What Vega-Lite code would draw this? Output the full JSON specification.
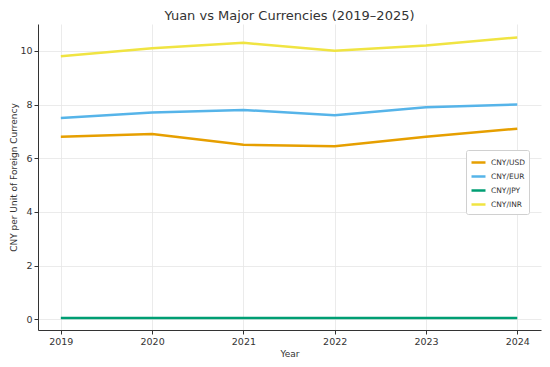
{
  "$schema": "https://vega.github.io/schema/vega-lite/v6.json",
  "width": 503,
  "height": 306,
  "autosize": {"type": "none"},
  "padding": {"left": 38, "top": 24, "right": 9, "bottom": 37},
  "background": "white",
  "title": {"text": "Yuan vs Major Currencies (2019–2025)", "font": "DejaVu Sans", "fontSize": 13, "fontWeight": "normal", "color": "#333333", "offset": 1},
  "config": {
    "view": {"stroke": null},
    "axis": {"labelFont": "DejaVu Sans", "titleFont": "DejaVu Sans", "labelFontSize": 9.5, "titleFontSize": 9, "titleFontWeight": "normal", "labelColor": "#333333", "titleColor": "#333333", "domainColor": "#333333", "tickColor": "#333333", "gridColor": "#e6e6e6", "gridWidth": 0.8, "tickSize": 4}
  },
  "data": {"values": [
    {"Year": 2019, "Pair": "CNY/USD", "Rate": 6.8},
    {"Year": 2020, "Pair": "CNY/USD", "Rate": 6.9},
    {"Year": 2021, "Pair": "CNY/USD", "Rate": 6.5},
    {"Year": 2022, "Pair": "CNY/USD", "Rate": 6.45},
    {"Year": 2023, "Pair": "CNY/USD", "Rate": 6.8},
    {"Year": 2024, "Pair": "CNY/USD", "Rate": 7.1},
    {"Year": 2019, "Pair": "CNY/EUR", "Rate": 7.5},
    {"Year": 2020, "Pair": "CNY/EUR", "Rate": 7.7},
    {"Year": 2021, "Pair": "CNY/EUR", "Rate": 7.8},
    {"Year": 2022, "Pair": "CNY/EUR", "Rate": 7.6},
    {"Year": 2023, "Pair": "CNY/EUR", "Rate": 7.9},
    {"Year": 2024, "Pair": "CNY/EUR", "Rate": 8.0},
    {"Year": 2019, "Pair": "CNY/JPY", "Rate": 0.05},
    {"Year": 2020, "Pair": "CNY/JPY", "Rate": 0.05},
    {"Year": 2021, "Pair": "CNY/JPY", "Rate": 0.05},
    {"Year": 2022, "Pair": "CNY/JPY", "Rate": 0.05},
    {"Year": 2023, "Pair": "CNY/JPY", "Rate": 0.05},
    {"Year": 2024, "Pair": "CNY/JPY", "Rate": 0.05},
    {"Year": 2019, "Pair": "CNY/INR", "Rate": 9.8},
    {"Year": 2020, "Pair": "CNY/INR", "Rate": 10.1},
    {"Year": 2021, "Pair": "CNY/INR", "Rate": 10.3},
    {"Year": 2022, "Pair": "CNY/INR", "Rate": 10.0},
    {"Year": 2023, "Pair": "CNY/INR", "Rate": 10.2},
    {"Year": 2024, "Pair": "CNY/INR", "Rate": 10.5}
  ]},
  "mark": {"type": "line", "strokeWidth": 2.5, "clip": true},
  "encoding": {
    "x": {"field": "Year", "type": "quantitative", "scale": {"domain": [2018.75, 2024.26], "nice": false, "zero": false},
      "axis": {"values": [2019, 2020, 2021, 2022, 2023, 2024], "format": "d", "title": "Year", "titlePadding": 4}},
    "y": {"field": "Rate", "type": "quantitative", "scale": {"domain": [-0.4, 11.0], "nice": false, "zero": false},
      "axis": {"values": [0, 2, 4, 6, 8, 10], "title": "CNY per Unit of Foreign Currency", "titlePadding": 1}},
    "color": {"field": "Pair", "type": "nominal",
      "scale": {"domain": ["CNY/USD", "CNY/EUR", "CNY/JPY", "CNY/INR"], "range": ["#E69F00", "#56B4E9", "#009E73", "#F0E442"]},
      "legend": {"title": null, "orient": "none", "legendX": 428, "legendY": 126, "symbolType": "stroke", "symbolStrokeWidth": 2.5, "symbolSize": 196, "labelFont": "DejaVu Sans", "labelFontSize": 7.5, "labelColor": "#333333", "labelOffset": 4, "fillColor": "white", "strokeColor": "#d0d0d0", "padding": 4, "rowPadding": -1, "cornerRadius": 2}
    }
  }
}
